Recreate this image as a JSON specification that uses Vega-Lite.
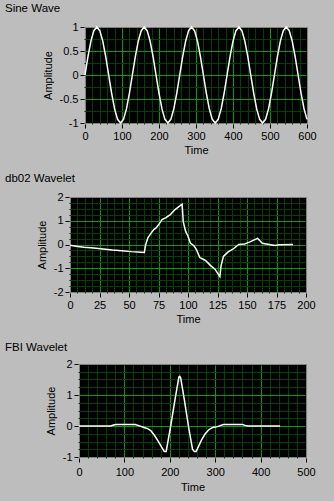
{
  "$schema": "https://vega.github.io/schema/vega-lite/v6.json",
  "background": "#bdbdbd",
  "padding": {"left": 5, "top": 3, "right": 22, "bottom": 15},
  "spacing": 17,
  "datasets": {
    "sine": [
      {"t":0,"a":0},{"t":8,"a":0.3827},{"t":16,"a":0.7071},{"t":24,"a":0.9239},{"t":32,"a":1},{"t":40,"a":0.9239},{"t":48,"a":0.7071},{"t":56,"a":0.3827},
      {"t":64,"a":0},{"t":72,"a":-0.3827},{"t":80,"a":-0.7071},{"t":88,"a":-0.9239},{"t":96,"a":-1},{"t":104,"a":-0.9239},{"t":112,"a":-0.7071},{"t":120,"a":-0.3827},
      {"t":128,"a":0},{"t":136,"a":0.3827},{"t":144,"a":0.7071},{"t":152,"a":0.9239},{"t":160,"a":1},{"t":168,"a":0.9239},{"t":176,"a":0.7071},{"t":184,"a":0.3827},
      {"t":192,"a":0},{"t":200,"a":-0.3827},{"t":208,"a":-0.7071},{"t":216,"a":-0.9239},{"t":224,"a":-1},{"t":232,"a":-0.9239},{"t":240,"a":-0.7071},{"t":248,"a":-0.3827},
      {"t":256,"a":0},{"t":264,"a":0.3827},{"t":272,"a":0.7071},{"t":280,"a":0.9239},{"t":288,"a":1},{"t":296,"a":0.9239},{"t":304,"a":0.7071},{"t":312,"a":0.3827},
      {"t":320,"a":0},{"t":328,"a":-0.3827},{"t":336,"a":-0.7071},{"t":344,"a":-0.9239},{"t":352,"a":-1},{"t":360,"a":-0.9239},{"t":368,"a":-0.7071},{"t":376,"a":-0.3827},
      {"t":384,"a":0},{"t":392,"a":0.3827},{"t":400,"a":0.7071},{"t":408,"a":0.9239},{"t":416,"a":1},{"t":424,"a":0.9239},{"t":432,"a":0.7071},{"t":440,"a":0.3827},
      {"t":448,"a":0},{"t":456,"a":-0.3827},{"t":464,"a":-0.7071},{"t":472,"a":-0.9239},{"t":480,"a":-1},{"t":488,"a":-0.9239},{"t":496,"a":-0.7071},{"t":504,"a":-0.3827},
      {"t":512,"a":0},{"t":520,"a":0.3827},{"t":528,"a":0.7071},{"t":536,"a":0.9239},{"t":544,"a":1},{"t":552,"a":0.9239},{"t":560,"a":0.7071},{"t":568,"a":0.3827},
      {"t":576,"a":0},{"t":584,"a":-0.3827},{"t":592,"a":-0.7071},{"t":600,"a":-0.9239}
    ],
    "db02": [
      {"t":0,"a":-0.03},{"t":4,"a":-0.06},{"t":8,"a":-0.09},{"t":12,"a":-0.12},{"t":20,"a":-0.15},{"t":28,"a":-0.19},{"t":36,"a":-0.23},{"t":44,"a":-0.26},{"t":52,"a":-0.3},{"t":60,"a":-0.33},{"t":63,"a":-0.34},
      {"t":64,"a":-0.03},{"t":66,"a":0.28},{"t":69,"a":0.5},{"t":71,"a":0.63},{"t":73,"a":0.7},{"t":76,"a":0.9},{"t":78,"a":1.05},{"t":81,"a":1.12},{"t":85,"a":1.26},{"t":89,"a":1.47},{"t":95,"a":1.7},
      {"t":96,"a":0.95},{"t":98,"a":0.55},{"t":100,"a":0.35},{"t":102,"a":0.06},{"t":105,"a":-0.05},{"t":107,"a":-0.2},{"t":110,"a":-0.55},{"t":112,"a":-0.6},{"t":115,"a":-0.68},{"t":119,"a":-0.88},{"t":123,"a":-1.05},{"t":127,"a":-1.35},
      {"t":128,"a":-0.9},{"t":130,"a":-0.5},{"t":134,"a":-0.31},{"t":138,"a":-0.2},{"t":143,"a":0},{"t":148,"a":0.02},{"t":152,"a":0.1},{"t":159,"a":0.26},{"t":163,"a":0.05},{"t":170,"a":-0.01},{"t":174,"a":-0.04},{"t":177,"a":-0.01},{"t":189,"a":0}
    ],
    "fbi": [
      {"t":0,"a":0},{"t":70,"a":0},{"t":76,"a":0.03},{"t":82,"a":0.05},{"t":124,"a":0.05},{"t":130,"a":0.02},{"t":140,"a":-0.03},{"t":150,"a":-0.08},{"t":158,"a":-0.15},{"t":166,"a":-0.3},{"t":174,"a":-0.48},{"t":182,"a":-0.68},{"t":188,"a":-0.82},{"t":192,"a":-0.82},
      {"t":202,"a":0},{"t":212,"a":0.9},{"t":220,"a":1.58},{"t":222,"a":1.6},{"t":224,"a":1.55},{"t":232,"a":0.85},{"t":241,"a":0},
      {"t":250,"a":-0.75},{"t":254,"a":-0.82},{"t":258,"a":-0.82},{"t":262,"a":-0.7},{"t":270,"a":-0.45},{"t":278,"a":-0.25},{"t":286,"a":-0.12},{"t":294,"a":-0.05},{"t":305,"a":-0.02},{"t":318,"a":0.05},{"t":360,"a":0.05},{"t":366,"a":0.02},{"t":372,"a":0},{"t":443,"a":0}
    ],
    "none": []
  },
  "vconcat": [
    {"title": {"text": "Sine Wave", "offset": 6}, "spacing": 0, "hconcat": [
      {"width": 36, "height": 10, "data": {"name": "none"}, "mark": "point", "view": {"fill": null, "stroke": null}},
      {
      "width": 222, "height": 96,
      "data": {"name": "sine"},
      "mark": {"type": "line", "color": "#ffffff", "strokeWidth": 1.5},
      "encoding": {
        "x": {"field": "t", "type": "quantitative", "scale": {"domain": [0, 600], "nice": false, "zero": false},
          "axis": {"title": "Time",
            "values": [0,20,40,60,80,100,120,140,160,180,200,220,240,260,280,300,320,340,360,380,400,420,440,460,480,500,520,540,560,580,600],
            "labelExpr": "datum.value % 100 === 0 ? toString(datum.value) : ''",
            "tickOpacity": {"condition": {"test": "datum.value % 100 === 0", "value": 1}, "value": 0},
            "gridColor": {"condition": {"test": "datum.value % 100 === 0", "value": "#00a000"}, "value": "#004000"},
            "gridOpacity": {"condition": {"test": "datum.value === 0 || datum.value === 600", "value": 0}, "value": 1}}},
        "y": {"field": "a", "type": "quantitative", "scale": {"domain": [-1, 1], "nice": false, "zero": false},
          "axis": {"title": "Amplitude",
            "values": [-1,-0.75,-0.5,-0.25,0,0.25,0.5,0.75,1],
            "labelExpr": "datum.value % 0.5 === 0 ? toString(datum.value) : ''",
            "tickOpacity": {"condition": {"test": "datum.value % 0.5 === 0", "value": 1}, "value": 0},
            "gridColor": {"condition": {"test": "datum.value % 0.5 === 0", "value": "#00a000"}, "value": "#004000"},
            "gridOpacity": {"condition": {"test": "datum.value === -1 || datum.value === 1", "value": 0}, "value": 1}}}
      }
    }]},
    {"title": {"text": "db02 Wavelet", "offset": 6}, "spacing": 0, "hconcat": [
      {"width": 30, "height": 10, "data": {"name": "none"}, "mark": "point", "view": {"fill": null, "stroke": null}},
      {
      "width": 236, "height": 95,
      "data": {"name": "db02"},
      "mark": {"type": "line", "color": "#ffffff", "strokeWidth": 1.5},
      "encoding": {
        "x": {"field": "t", "type": "quantitative", "scale": {"domain": [0, 200], "nice": false, "zero": false},
          "axis": {"title": "Time",
            "values": [0,6.25,12.5,18.75,25,31.25,37.5,43.75,50,56.25,62.5,68.75,75,81.25,87.5,93.75,100,106.25,112.5,118.75,125,131.25,137.5,143.75,150,156.25,162.5,168.75,175,181.25,187.5,193.75,200],
            "labelExpr": "datum.value % 25 === 0 ? toString(datum.value) : ''",
            "tickOpacity": {"condition": {"test": "datum.value % 25 === 0", "value": 1}, "value": 0},
            "gridColor": {"condition": {"test": "datum.value % 25 === 0", "value": "#00a000"}, "value": "#004000"},
            "gridOpacity": {"condition": {"test": "datum.value === 0 || datum.value === 200", "value": 0}, "value": 1}}},
        "y": {"field": "a", "type": "quantitative", "scale": {"domain": [-2, 2], "nice": false, "zero": false},
          "axis": {"title": "Amplitude",
            "values": [-2,-1.75,-1.5,-1.25,-1,-0.75,-0.5,-0.25,0,0.25,0.5,0.75,1,1.25,1.5,1.75,2],
            "labelExpr": "datum.value % 1 === 0 ? toString(datum.value) : ''",
            "tickOpacity": {"condition": {"test": "datum.value % 1 === 0", "value": 1}, "value": 0},
            "gridColor": {"condition": {"test": "datum.value % 1 === 0", "value": "#00a000"}, "value": "#004000"},
            "gridOpacity": {"condition": {"test": "datum.value === -2 || datum.value === 2", "value": 0}, "value": 1}}}
      }
    }]},
    {"title": {"text": "FBI Wavelet", "offset": 4}, "spacing": 0, "hconcat": [
      {"width": 39, "height": 10, "data": {"name": "none"}, "mark": "point", "view": {"fill": null, "stroke": null}},
      {
      "width": 227, "height": 93,
      "data": {"name": "fbi"},
      "mark": {"type": "line", "color": "#ffffff", "strokeWidth": 1.5},
      "encoding": {
        "x": {"field": "t", "type": "quantitative", "scale": {"domain": [0, 500], "nice": false, "zero": false},
          "axis": {"title": "Time", "labelPadding": 4, "titlePadding": 4,
            "values": [0,20,40,60,80,100,120,140,160,180,200,220,240,260,280,300,320,340,360,380,400,420,440,460,480,500],
            "labelExpr": "datum.value % 100 === 0 ? toString(datum.value) : ''",
            "tickOpacity": {"condition": {"test": "datum.value % 100 === 0", "value": 1}, "value": 0},
            "gridColor": {"condition": {"test": "datum.value % 100 === 0", "value": "#00a000"}, "value": "#004000"},
            "gridOpacity": {"condition": {"test": "datum.value === 0 || datum.value === 500", "value": 0}, "value": 1}}},
        "y": {"field": "a", "type": "quantitative", "scale": {"domain": [-1, 2], "nice": false, "zero": false},
          "axis": {"title": "Amplitude",
            "values": [-1,-0.75,-0.5,-0.25,0,0.25,0.5,0.75,1,1.25,1.5,1.75,2],
            "labelExpr": "datum.value % 1 === 0 ? toString(datum.value) : ''",
            "tickOpacity": {"condition": {"test": "datum.value % 1 === 0", "value": 1}, "value": 0},
            "gridColor": {"condition": {"test": "datum.value % 1 === 0", "value": "#00a000"}, "value": "#004000"},
            "gridOpacity": {"condition": {"test": "datum.value === -1 || datum.value === 2", "value": 0}, "value": 1}}}
      }
    }]}
  ],
  "config": {
    "view": {"fill": "#000000", "stroke": "#808080", "strokeWidth": 1},
    "title": {"font": "Liberation Sans", "fontSize": 11.5, "fontWeight": "normal", "color": "#000000", "anchor": "start", "frame": "group"},
    "axis": {
      "domain": false, "tickColor": "#000000", "tickSize": 4, "offset": 1, "labelPadding": 2,
      "labelFont": "Liberation Sans", "labelFontSize": 11, "labelColor": "#000000",
      "labelOverlap": false, "labelFlush": false, "labelBound": false,
      "titleFont": "Liberation Sans", "titleFontSize": 11, "titleFontWeight": "normal", "titleColor": "#000000",
      "gridWidth": 1
    },
    "axisX": {"titlePadding": 3},
    "axisY": {"titlePadding": 6}
  }
}
